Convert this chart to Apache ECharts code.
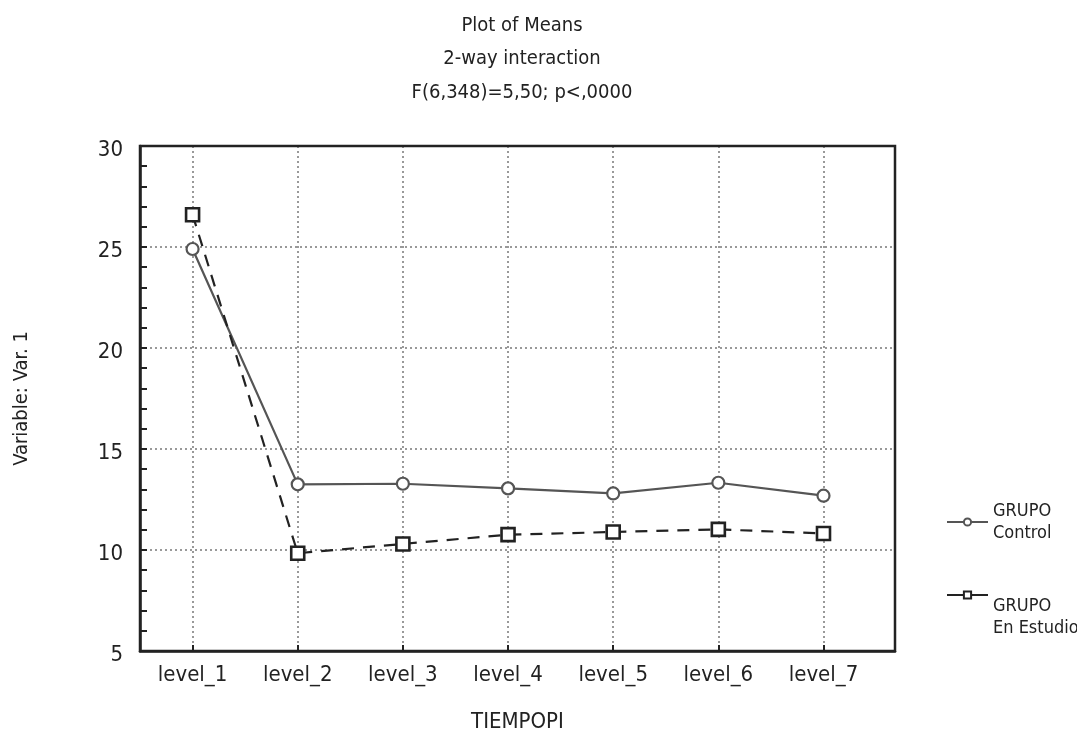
<!DOCTYPE html>
<html>
<head>
<meta charset="utf-8">
<script src="https://cdn.jsdelivr.net/npm/echarts@6/dist/echarts.min.js"></script>
<style>html,body{margin:0;padding:0;background:#fff}#chart{width:1077px;height:731px}</style>
</head>
<body>
<div id="chart"></div>
<script>
const categories = ['level_1','level_2','level_3','level_4','level_5','level_6','level_7'];
const controlValues = [24.9, 13.25, 13.28, 13.05, 12.8, 13.33, 12.69];
const estudioValues = [26.6, 9.84, 10.3, 10.76, 10.89, 11.02, 10.82];
const yTicks = [5, 10, 15, 20, 25, 30];
const titleLines = ['Plot of Means', '2-way interaction', 'F(6,348)=5,50; p<,0000'];
const seriesNames = ['Control', 'En Estudio'];

const FONT = '"DejaVu Sans Condensed", "Liberation Sans Narrow", "Noto Sans", sans-serif';
const positions = categories.map((c, i) => i + 1);

const chart = echarts.init(document.getElementById('chart'));
chart.setOption({
  backgroundColor: '#fff',
  animation: false,
  textStyle: { fontFamily: FONT },
  title: {
    text: titleLines.join('\n'),
    left: 517,
    textAlign: 'center',
    top: 4,
    textStyle: { fontFamily: FONT, fontSize: 20, fontWeight: 'normal', color: '#222', lineHeight: 33.5 }
  },
  grid: { left: 140, right: 182, top: 146, bottom: 80, outerBoundsMode: 'none', containLabel: false, show: true, z: 1, borderColor: '#222', borderWidth: 2.5, backgroundColor: 'transparent' },
  legend: [
    {
      data: [seriesNames[0]],
      orient: 'vertical', left: 941, top: 495,
      itemWidth: 41, itemHeight: 9,
      formatter: n => 'GRUPO\n' + n,
      lineStyle: { type: 'solid' },
      textStyle: { fontFamily: FONT, fontSize: 18, color: '#222', lineHeight: 22 }
    },
    {
      data: [seriesNames[1]],
      orient: 'vertical', left: 941, top: 546,
      itemWidth: 41, itemHeight: 9,
      formatter: n => '\n\nGRUPO\n' + n,
      lineStyle: { type: 'solid' },
      textStyle: { fontFamily: FONT, fontSize: 18, color: '#222', lineHeight: 22 }
    }
  ],
  xAxis: {
    type: 'value',
    min: 0.5,
    max: 7.68,
    name: 'TIEMPOPI',
    nameLocation: 'middle',
    nameGap: 60,
    nameTextStyle: { fontFamily: FONT, fontSize: 22, color: '#222' },
    axisLine: { show: true, lineStyle: { color: '#222', width: 2.5 } },
    axisTick: { show: true, inside: true, length: 6, customValues: positions, lineStyle: { color: '#222', width: 2 } },
    axisLabel: {
      customValues: positions,
      formatter: v => categories[Math.round(v) - 1] || '',
      margin: 13,
      fontFamily: FONT, fontSize: 22, color: '#222'
    },
    splitLine: { show: true, lineStyle: { color: '#999', type: [2, 3], width: 2 } }
  },
  yAxis: {
    type: 'value',
    min: yTicks[0],
    max: yTicks[yTicks.length - 1],
    interval: 5,
    name: 'Variable: Var. 1',
    nameLocation: 'middle',
    nameGap: 108,
    nameTextStyle: { fontFamily: FONT, fontSize: 20, color: '#222' },
    axisLine: { show: true, lineStyle: { color: '#222', width: 2.5 } },
    axisTick: { show: true, inside: true, length: 7, lineStyle: { color: '#222', width: 2 } },
    minorTick: { show: true, splitNumber: 5, length: 7, lineStyle: { color: '#222', width: 2 } },
    axisLabel: {
      margin: 17,
      formatter: v => '{a|' + v + '}',
      rich: { a: { fontFamily: FONT, fontSize: 22, color: '#222', padding: [8, 0, 0, 0] } },
      fontFamily: FONT, fontSize: 22, color: '#222'
    },
    splitLine: { show: true, lineStyle: { color: '#999', type: [2, 3], width: 2 } }
  },
  series: [
    {
      name: seriesNames[0],
      type: 'line',
      data: controlValues.map((v, i) => [positions[i], v]),
      symbol: 'circle',
      symbolSize: 12,
      lineStyle: { color: '#555', width: 2.2, type: 'solid' },
      itemStyle: { color: '#fff', borderColor: '#555', borderWidth: 2.2 },
      z: 3
    },
    {
      name: seriesNames[1],
      type: 'line',
      data: estudioValues.map((v, i) => [positions[i], v]),
      symbol: 'rect',
      symbolSize: 13,
      lineStyle: { color: '#222', width: 2.2, type: [12, 9] },
      itemStyle: { color: '#fff', borderColor: '#222', borderWidth: 2.6 },
      z: 4
    }
  ]
});
</script>
</body>
</html>
